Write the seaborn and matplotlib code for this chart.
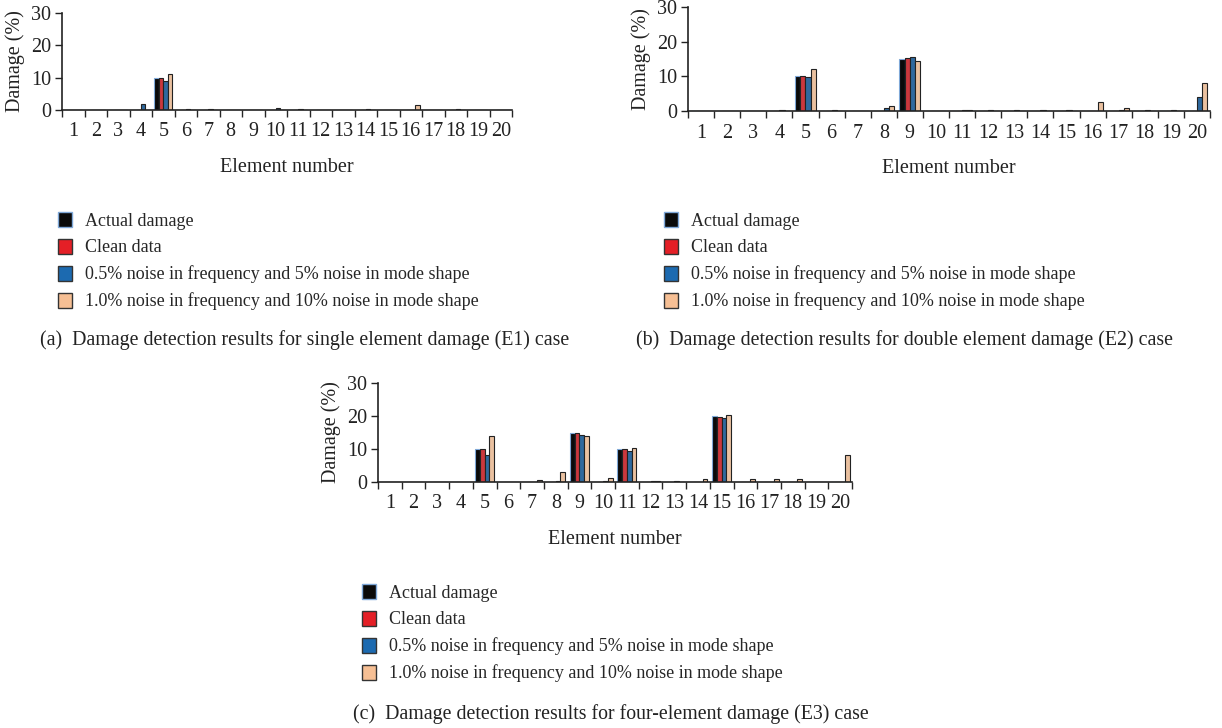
import numpy as np
import pandas as pd
import matplotlib
matplotlib.use("Agg")
import matplotlib.pyplot as plt
from matplotlib.patches import Patch
from matplotlib.ticker import FixedLocator
import seaborn as sns

elements = list(range(1, 21))
series_names = ["Actual damage", "Clean data",
                "0.5% noise in frequency and 5% noise in mode shape",
                "1.0% noise in frequency and 10% noise in mode shape"]
colors = ["#0a0a0a", "#e41f26", "#1c6ab0", "#f6bf94"]

# Panel (a): single element damage (E1)
a_actual = [0, 0, 0, 0, 10, 0, 0, 0, 0, 0, 0, 0, 0, 0, 0, 0, 0, 0, 0, 0]
a_clean = [0, 0, 0, 0, 10, 0, 0, 0, 0, 0, 0, 0, 0, 0, 0, 0, 0, 0, 0, 0]
a_noise1 = [0, 0, 0, 2, 9, 0.2, 0.2, 0, 0, 0.5, 0.2, 0, 0, 0.2, 0, 0, 0, 0.2, 0, 0]
a_noise2 = [0, 0, 0, 0, 11, 0, 0, 0, 0, 0, 0, 0, 0, 0, 0, 1.5, 0, 0, 0, 0]

# Panel (b): double element damage (E2)
b_actual = [0, 0, 0, 0, 10, 0, 0, 0, 15, 0, 0, 0, 0, 0, 0, 0, 0, 0, 0, 0]
b_clean = [0, 0, 0, 0, 10, 0, 0, 0, 15.2, 0, 0, 0, 0, 0, 0, 0, 0, 0, 0, 0]
b_noise1 = [0, 0, 0, 0.2, 9.8, 0.2, 0, 1.0, 15.5, 0, 0.3, 0.2, 0.2, 0.2, 0.2, 0, 0.3, 0.2, 0.2, 4.0]
b_noise2 = [0, 0, 0, 0, 12, 0, 0, 1.3, 14.3, 0, 0.3, 0, 0, 0, 0, 2.5, 1.0, 0, 0, 8.0]

# Panel (c): four-element damage (E3)
c_actual = [0, 0, 0, 0, 10, 0, 0, 0, 15, 0, 10, 0, 0, 0, 20, 0, 0, 0, 0, 0]
c_clean = [0, 0, 0, 0, 10, 0, 0, 0, 15, 0, 10, 0, 0, 0, 19.8, 0, 0, 0, 0, 0]
c_noise1 = [0, 0, 0, 0, 8.3, 0, 0, 0.2, 14.3, 0.2, 9.5, 0.2, 0.2, 0, 19.5, 0, 0, 0, 0, 0]
c_noise2 = [0, 0, 0, 0, 13.8, 0, 0.6, 3.0, 13.8, 1.2, 10.3, 0.4, 0, 0.8, 20.3, 0.8, 0.8, 0.8, 0, 8.2]

captions = ["(a)  Damage detection results for single element damage (E1) case",
            "(b)  Damage detection results for double element damage (E2) case",
            "(c)  Damage detection results for four-element damage (E3) case"]

sns.set_theme(style="white")
plt.rcParams["font.family"] = ["Liberation Serif", "DejaVu Serif"]

fig = plt.figure(figsize=(12.22, 7.28), dpi=100)

panels = [
    ([a_actual, a_clean, a_noise1, a_noise2], [62, 13, 512, 110]),
    ([b_actual, b_clean, b_noise1, b_noise2], [688, 7, 1210, 111]),
    ([c_actual, c_clean, c_noise1, c_noise2], [378, 383, 852, 482]),
]
W, H = 1222, 728
legend_pos = [(58, 212), (664, 212), (362, 584)]
caption_pos = [(305, 340), (905, 340), (611, 714)]

for i, (vals, (x0, y0, x1, y1)) in enumerate(panels):
    ax = fig.add_axes([x0 / W, 1 - y1 / H, (x1 - x0) / W, (y1 - y0) / H])
    rows = []
    for name, v in zip(series_names, vals):
        for e, d in zip(elements, v):
            rows.append({"Element": str(e), "Damage": d, "Series": name})
    df = pd.DataFrame(rows)
    sns.barplot(data=df, x="Element", y="Damage", hue="Series",
                hue_order=series_names, palette=colors, width=0.8,
                edgecolor="#222222", linewidth=0.8, ax=ax, legend=False)
    for bar in ax.containers[0]:
        bar.set_edgecolor("#7fa8d8")
    ax.set_ylim(0, 30)
    ax.set_xlim(-0.5, 19.5)
    ax.set_yticks([0, 10, 20, 30])
    ax.tick_params(axis="both", labelsize=14.5, colors="#222222", pad=3)
    ax.tick_params(axis="x", length=0, pad=9)
    ax.tick_params(axis="y", length=5, width=1, direction="out", left=True)
    ax.xaxis.set_minor_locator(FixedLocator(np.arange(-0.5, 20, 1)))
    ax.tick_params(axis="x", which="minor", length=5, width=1, direction="out", bottom=True)
    for s in ["top", "right"]:
        ax.spines[s].set_visible(False)
    for s in ["left", "bottom"]:
        ax.spines[s].set_color("#222222")
        ax.spines[s].set_linewidth(1.2)
    ax.set_xlabel("Element number", fontsize=14.5, labelpad=12, color="#222222")
    ax.set_ylabel("Damage (%)", fontsize=14.5, labelpad=4, color="#222222")

    handles = [Patch(facecolor=c, edgecolor=("#7fa8d8" if k == 0 else "#333333"), linewidth=1)
               for k, c in enumerate(colors)]
    lx, ly = legend_pos[i]
    fig.legend(handles, series_names, loc="upper left",
               bbox_to_anchor=(lx / W, 1 - ly / H), frameon=False,
               fontsize=13, handlelength=0.8, handleheight=0.9,
               handletextpad=0.7, labelspacing=0.5, borderaxespad=0, borderpad=0)
    cx, cy = caption_pos[i]
    fig.text(cx / W, 1 - cy / H, captions[i], ha="center", va="center",
             fontsize=14.3, color="#222222")

fig.savefig("out.png", dpi=100)
